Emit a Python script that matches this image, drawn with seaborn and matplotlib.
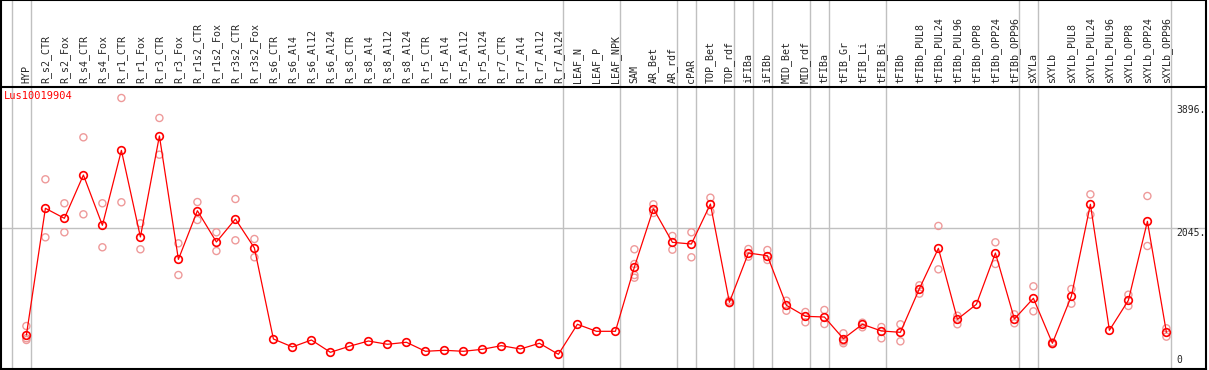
import numpy as np
import matplotlib
matplotlib.use("Agg")
import matplotlib.pyplot as plt
import seaborn as sns

categories = [
    "HYP", "R_s2_CTR", "R_s2_Fox", "R_s4_CTR", "R_s4_Fox", "R_r1_CTR", "R_r1_Fox",
    "R_r3_CTR", "R_r3_Fox", "R_r1s2_CTR", "R_r1s2_Fox", "R_r3s2_CTR", "R_r3s2_Fox",
    "R_s6_CTR", "R_s6_Al4", "R_s6_Al12", "R_s6_Al24", "R_s8_CTR", "R_s8_Al4",
    "R_s8_Al12", "R_s8_Al24", "R_r5_CTR", "R_r5_Al4", "R_r5_Al12", "R_r5_Al24",
    "R_r7_CTR", "R_r7_Al4", "R_r7_Al12", "R_r7_Al24", "LEAF_N", "LEAF_P", "LEAF_NPK",
    "SAM", "AR_Bet", "AR_rdf", "cPAR", "TOP_Bet", "TOP_rdf", "iFIBa", "iFIBb",
    "MID_Bet", "MID_rdf", "tFIBa", "tFIB_Gr", "tFIB_Li", "tFIB_Bi", "tFIBb",
    "tFIBb_PUL8", "tFIBb_PUL24", "tFIBb_PUL96", "tFIBb_OPP8", "tFIBb_OPP24",
    "tFIBb_OPP96", "sXYLa", "sXYLb", "sXYLb_PUL8", "sXYLb_PUL24", "sXYLb_PUL96",
    "sXYLb_OPP8", "sXYLb_OPP24", "sXYLb_OPP96",
]

# mean expression per sample
means = [
    449, 2344, 2194, 2842, 2090, 3211, 1915, 3426, 1580, 2308, 1840, 2184, 1750,
    389, 270, 374, 190, 280, 359, 310, 340, 205, 220, 205, 235, 289, 239, 325, 160,
    609, 504, 504, 1466, 2338, 1835, 1810, 2408, 938, 1675, 1635, 893, 728, 718,
    393, 609, 509, 489, 1142, 1745, 684, 908, 1675, 688, 998, 325, 1032, 2404, 519,
    968, 2149, 489,
]

nan = np.nan
# replicates (upper / lower), nan where not visible
rep_hi = [
    583, 2778, 2419, 3406, 2419, 3994, 2120, 3695, 1820, 2438, 1985, 2483, 1885,
    nan, nan, nan, nan, nan, nan, nan, nan, nan, nan, nan, nan, nan, nan, nan, nan,
    nan, nan, nan, 1731, 2404, 1930, 1985, 2503, 962, 1735, 1720, 962, 793, 823,
    474, 633, 568, 609, 1192, 2080, 737, nan, 1835, 758, 1177, 340, 1137, 2553, nan,
    1052, 2528, 549,
]
rep_lo = [
    374, 1910, 1985, 2254, 1761, 2434, 1731, 3146, 1346, 2169, 1705, 1865, 1611,
    nan, nan, nan, nan, nan, nan, nan, nan, nan, nan, nan, nan, nan, nan, nan, nan,
    nan, nan, nan, 1306, 2274, 1725, 1611, 2294, 923, 1620, 1571, 812, 639, 613,
    325, 564, 399, 354, 1067, 1431, 609, nan, 1511, 624, 803, 310, 917, 2249, nan,
    883, 1780, 424,
]
extra_cat = ["HYP", "SAM", "SAM", "tFIB_Gr"]
extra_val = [400, 1511, 1346, 354]

gene = "Lus10019904"
ytick_vals = [3896, 2045, 0]
group_breaks = [-1, 0, 28, 31, 34, 35, 37, 38, 39, 41, 42, 45, 52, 53, 60]

sns.set_style("white")
plt.rcParams["font.family"] = ["DejaVu Sans Mono"]

W, H = 1209, 370
fig = plt.figure(figsize=(W / 100, H / 100), dpi=100)
top_px, bot_px, left_px, right_px = 87, 369, 1, 1206
ax = fig.add_axes([left_px / W, 1 - bot_px / H, (right_px - left_px) / W, (bot_px - top_px) / H])

# pixel mapping: x = 26.4 + 19*i ; value 0 at y=365, 0.06685 px per unit
x_lo = (left_px - 26.4) / 19
x_hi = (right_px - 26.4) / 19
y_lo = (365 - bot_px) / 0.06685
y_hi = (365 - top_px) / 0.06685
ax.set_xlim(x_lo, x_hi)
ax.set_ylim(y_lo, y_hi)

idx = np.arange(len(categories))
pos = {c: i for i, c in enumerate(categories)}
head = 1 + top_px / (bot_px - top_px)
xt = ax.get_xaxis_transform()

# grid lines
ax.axhline(2045, color="#c0c0c0", lw=1, zorder=0)
for b in group_breaks:
    ax.plot([b + 0.23, b + 0.23], [0, head], color="#c0c0c0", lw=1,
            transform=xt, clip_on=False, zorder=0)

pink = "#ee9a9a"
rx = np.concatenate([idx, idx, [pos[c] for c in extra_cat]])
ry = np.concatenate([rep_hi, rep_lo, extra_val])
ok = ~np.isnan(ry)
sns.scatterplot(x=rx[ok], y=ry[ok], ax=ax, s=26, facecolor="none",
                edgecolor=pink, linewidth=1, zorder=2, legend=False)
sns.lineplot(x=idx, y=means, ax=ax, color="red", lw=0.9, marker="o",
             markersize=5.5, markerfacecolor="none", markeredgecolor="red",
             markeredgewidth=1.2, zorder=3)

# sample labels in header
for i, c in enumerate(categories):
    ax.text(i, 1 + 4 / (bot_px - top_px), c, rotation=90, ha="center", va="bottom",
            fontsize=7.2, transform=xt, clip_on=False)

ax.text(0.002, 0.985, gene, color="red", fontsize=7.5, ha="left", va="top",
        transform=ax.transAxes)

yt = ax.get_yaxis_transform()
for v in ytick_vals:
    lab = "0" if v == 0 else f"{v}."
    ax.text(0.9755, v, lab, fontsize=7, ha="left",
            va="bottom" if v == 0 else "top", transform=yt)

ax.set_xticks([])
ax.set_yticks([])
ax.set_xlabel("")
ax.set_ylabel("")
for s in ax.spines.values():
    s.set_color("black")
    s.set_linewidth(1.5)
# frame around header
ax.plot([0, 0, 1, 1], [1, head, head, 1], color="black", lw=1.5,
        transform=ax.transAxes, clip_on=False)

fig.savefig("out.png", dpi=100)
